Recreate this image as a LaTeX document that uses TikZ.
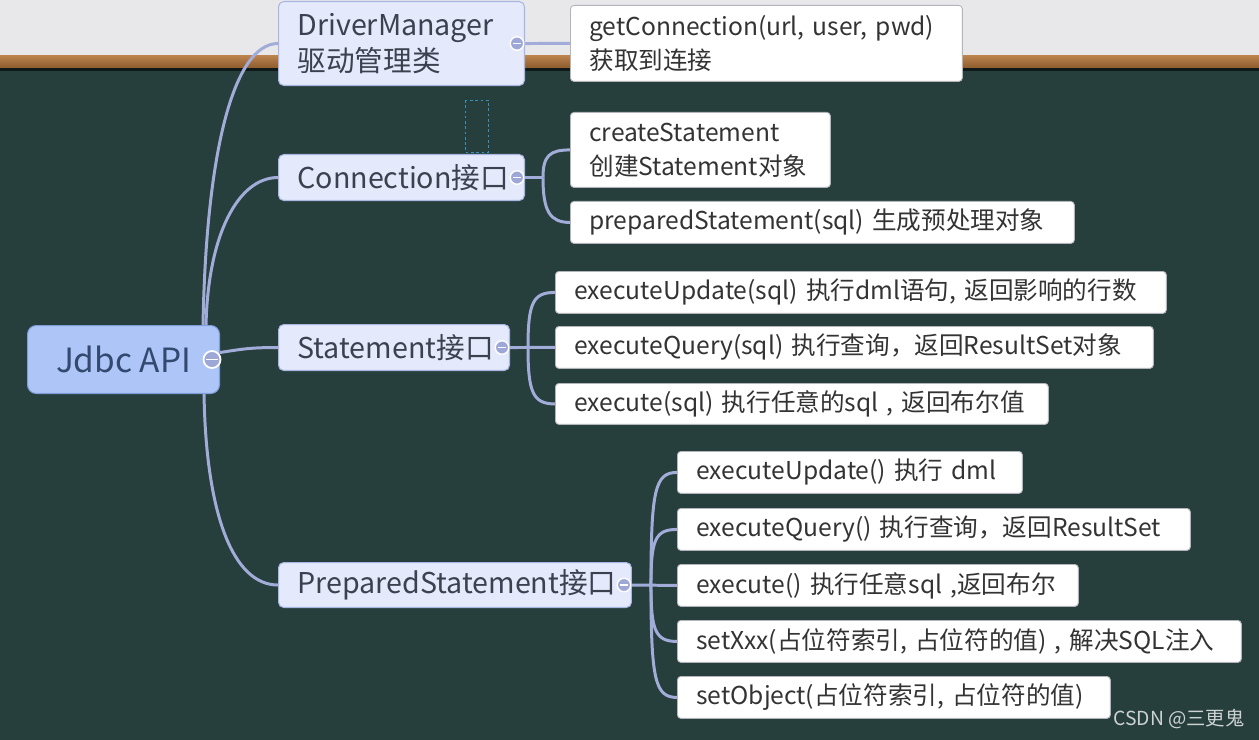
\documentclass[tikz,border=0pt]{standalone}
\usepackage{fontspec}
\setmainfont{Noto Sans CJK SC}
\setsansfont{Noto Sans CJK SC}
\usepackage{tikz}
\usetikzlibrary{positioning,calc}
\usepackage{xcolor}
\definecolor{board}{HTML}{263F3C}
\definecolor{wallgray}{HTML}{E8E8EA}
\definecolor{woodhi}{HTML}{B9814C}
\definecolor{woodlo}{HTML}{8E5C2E}
\definecolor{rootfill}{HTML}{AEC6F7}
\definecolor{rootedge}{HTML}{7F9ED8}
\definecolor{roottext}{HTML}{34496F}
\definecolor{topicfill}{HTML}{E4E9FB}
\definecolor{topicedge}{HTML}{AAB6E2}
\definecolor{topictext}{HTML}{3C4150}
\definecolor{leafedge}{HTML}{B4B4BC}
\definecolor{leaftext}{HTML}{333333}
\definecolor{linkcol}{HTML}{A2ACD9}
\definecolor{foldfill}{HTML}{9EA8D6}
\definecolor{wmgray}{HTML}{CDD2D2}
\definecolor{dragblue}{HTML}{3A90B8}

\begin{document}
\begin{tikzpicture}[x=0.02cm, y=-0.02cm,
  root/.style={rectangle, draw=rootedge, fill=rootfill, line width=0.6pt, rounded corners=5pt, minimum width=3.84cm, minimum height=1.36cm, anchor=north west, text=roottext, font=\fontsize{19}{23}\selectfont},
  topic/.style={rectangle, draw=topicedge, fill=topicfill, line width=0.6pt, rounded corners=3pt, align=left, inner xsep=0.38cm, inner ysep=2pt, anchor=north west, text=topictext, font=\fontsize{16.3}{21}\selectfont},
  leaf/.style={rectangle, draw=leafedge, fill=white, line width=0.5pt, rounded corners=2pt, align=left, inner xsep=0.38cm, inner ysep=2pt, minimum height=0.84cm, anchor=north west, text=leaftext, font=\fontsize{14}{19.3}\selectfont},
  link/.style={line width=1.7pt, linkcol},
  fold/.style={circle, draw=white, fill=foldfill, line width=0.8pt, minimum size=0.27cm, inner sep=0pt,
    path picture={\draw[white, line width=1pt] ([xshift=1.6pt]path picture bounding box.west) -- ([xshift=-1.6pt]path picture bounding box.east);}}
]
  \useasboundingbox (0,0) rectangle (1259,740);
  % chalkboard and wall
  \fill[board] (0,0) rectangle (1259,740);
  \fill[wallgray] (0,0) rectangle (1259,56);
  \shade[top color=woodhi, bottom color=woodlo] (0,56) rectangle (1259,68);
  \fill[black!60!board] (0,68) rectangle (1259,71);
  \draw[dragblue, line width=0.4pt, dash pattern=on 1.5pt off 1.5pt] (465,100) rectangle (488,152);

  % centre and main topics
  \node[root] (api) at (27,325) {Jdbc API};
  \node[topic, text width=4.16cm, minimum height=1.68cm] (dm) at (278,1) {DriverManager\\驱动管理类};
  \node[topic, text width=4.16cm, minimum height=0.92cm] (cn) at (278,154) {Connection接口};
  \node[topic, text width=3.86cm, minimum height=0.92cm] (st) at (278,324) {Statement接口};
  \node[topic, text width=6.3cm, minimum height=0.9cm] (ps) at (278,562) {PreparedStatement接口};

  % leaves
  \node[leaf, text width=7.08cm, minimum height=1.52cm] (gc) at (570,5) {getConnection(url, user, pwd)\\获取到连接};
  \node[leaf, text width=4.44cm, minimum height=1.5cm] (cs) at (570,112) {createStatement\\创建Statement对象};
  \node[leaf, text width=9.32cm] (pst) at (570,201) {preparedStatement(sql) 生成预处理对象};
  \node[leaf, text width=11.46cm] (su) at (555,271) {executeUpdate(sql) 执行dml语句, 返回影响的行数};
  \node[leaf, text width=11.2cm] (sq) at (555,326) {executeQuery(sql) 执行查询，返回ResultSet对象};
  \node[leaf, text width=9.1cm, minimum height=0.82cm] (se) at (555,383) {execute(sql) 执行任意的sql , 返回布尔值};
  \node[leaf, text width=6.14cm] (pu) at (677,451) {executeUpdate() 执行 dml};
  \node[leaf, text width=9.5cm] (pq) at (677,508) {executeQuery() 执行查询，返回ResultSet};
  \node[leaf, text width=7.26cm] (pe) at (677,564) {execute() 执行任意sql ,返回布尔};
  \node[leaf, text width=10.52cm] (px) at (677,620) {setXxx(占位符索引, 占位符的值) , 解决SQL注入};
  \node[leaf, text width=7.9cm] (po) at (677,676) {setObject(占位符索引, 占位符的值)};

  \node[font=\fontsize{11}{13}\selectfont, text=wmgray, anchor=west, inner sep=0pt] (wm) at (1113,719) {CSDN @三更鬼};

  % centre to topics
  \draw[link] ([xshift=-0.34cm]api.north east) .. controls +(3,-170) and +(-45,0) .. (dm.west);
  \draw[link] ([xshift=-0.28cm]api.north east) .. controls +(2,-90) and +(-40,0) .. (cn.west);
  \draw[link] ([yshift=0.14cm]api.east) .. controls +(25,-4) and +(-25,0) .. (st.west);
  \draw[link] ([xshift=-0.32cm]api.south east) .. controls +(2,120) and +(-45,0) .. (ps.west);

  % topics to leaves
  \draw[link] (dm.east) -- (gc.west);
  \coordinate (cnfork) at ([xshift=0.36cm]cn.east);
  \draw[link] (cn.east) -- (cnfork);
  \draw[link] (cnfork) .. controls +(0,-22) and +(-20,0) .. (cs.west);
  \draw[link] (cnfork) .. controls +(0,34) and +(-20,0) .. (pst.west);
  \coordinate (stfork) at ([xshift=0.36cm]st.east);
  \draw[link] (st.east) -- (sq.west);
  \draw[link] (stfork) .. controls +(0,-45) and +(-22,0) .. (su.west);
  \draw[link] (stfork) .. controls +(0,45) and +(-22,0) .. (se.west);
  \coordinate (psfork) at ([xshift=0.38cm]ps.east);
  \draw[link] (ps.east) -- (pe.west);
  \draw[link] (psfork) .. controls +(0,-95) and +(-22,0) .. (pu.west);
  \draw[link] (psfork) .. controls +(0,-45) and +(-22,0) .. (pq.west);
  \draw[link] (psfork) .. controls +(0,45) and +(-22,0) .. (px.west);
  \draw[link] (psfork) .. controls +(0,95) and +(-22,0) .. (po.west);

  % fold marks
  \node[fold, minimum size=0.34cm, line width=1pt] (apifold) at ([xshift=-0.16cm]api.east) {};
  \node[fold] (dmfold) at ([xshift=-0.16cm]dm.east) {};
  \node[fold] (cnfold) at ([xshift=-0.16cm]cn.east) {};
  \node[fold] (stfold) at ([xshift=-0.16cm]st.east) {};
  \node[fold] (psfold) at ([xshift=-0.16cm]ps.east) {};
\end{tikzpicture}
\end{document}
